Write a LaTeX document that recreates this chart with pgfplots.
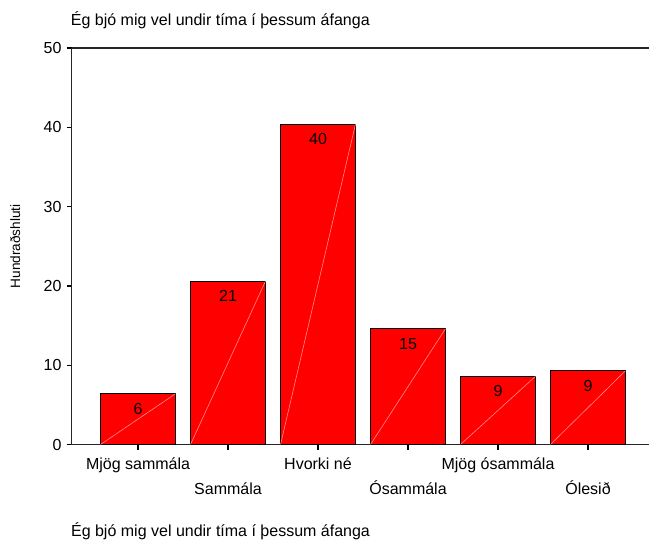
\documentclass[border=0pt]{standalone}
\usepackage{fontspec}
\setmainfont{Liberation Sans}
\usepackage{pgfplots}
\pgfplotsset{compat=1.18}

\begin{document}
\begin{tikzpicture}
\begin{axis}[
    scale only axis,
    width=288.65pt, height=198.25pt,
    xmin=-0.737, xmax=5.678,
    ymin=0, ymax=50,
    clip=false,
    axis x line*=box, axis y line*=left,
    axis line style={line width=0.75pt, black!85},
    xtick={0,1,2,3,4,5}, xtick pos=bottom,
    ytick={0,10,20,30,40,50}, ytick pos=left,
    tick align=outside, major tick length=2.5pt,
    tick style={line width=0.6pt, black},
    xticklabels={{\strut Mjög sammála},{\strut\\\strut Sammála},{\strut Hvorki né},{\strut\\\strut Ósammála},{\strut Mjög ósammála},{\strut\\\strut Ólesið}},
    xticklabel style={align=center, font=\fontsize{8}{12.5}\selectfont, inner sep=0pt, yshift=-1pt},
    yticklabel style={font=\fontsize{8}{9.6}\selectfont, inner sep=0pt, xshift=-2.4pt},
    /pgf/number format/assume math mode=true,
    ylabel={Hundraðshluti},
    every axis y label/.style={at={(rel axis cs:0,0.5)}, xshift=-28.3pt, rotate=90, anchor=center,
        font=\fontsize{6.8}{8}\selectfont},
]
\addplot[ybar, bar width=0.833, fill=red, draw=black, line width=0.5pt,
    point meta=explicit symbolic,
    nodes near coords,
    every node near coord/.style={anchor=north, inner sep=0pt, yshift=-4.4pt, font=\fontsize{8}{9.6}\selectfont, black}]
    coordinates {(0,6.4)[6] (1,20.6)[21] (2,40.4)[40] (3,14.6)[15] (4,8.6)[9] (5,9.3)[9]};
% faint diagonals across each bar, as in the original rendering
\addplot[red!45!white, line width=0.3pt, unbounded coords=jump, mark=none]
    coordinates {(-0.4165,0) (0.4165,6.4) (nan,nan)
                 (0.5835,0) (1.4165,20.6) (nan,nan)
                 (1.5835,0) (2.4165,40.4) (nan,nan)
                 (2.5835,0) (3.4165,14.6) (nan,nan)
                 (3.5835,0) (4.4165,8.6) (nan,nan)
                 (4.5835,0) (5.4165,9.3)};
\coordinate (O) at (rel axis cs:0,0);
\coordinate (T) at (rel axis cs:0,1);
\end{axis}
\node[anchor=base west, inner sep=0pt, font=\fontsize{8}{9.6}\selectfont] at ([xshift=-0.6pt, yshift=11.5pt]T) {Ég bjó mig vel undir tíma í þessum áfanga};
\node[anchor=base west, inner sep=0pt, font=\fontsize{8}{9.6}\selectfont] at ([xshift=-0.5pt, yshift=-45.75pt]O) {Ég bjó mig vel undir tíma í þessum áfanga};
\pgfresetboundingbox
\path ([xshift=-35.85pt, yshift=-49.25pt]O) rectangle ([xshift=288.65pt, yshift=222.25pt]O);
\end{tikzpicture}
\end{document}
